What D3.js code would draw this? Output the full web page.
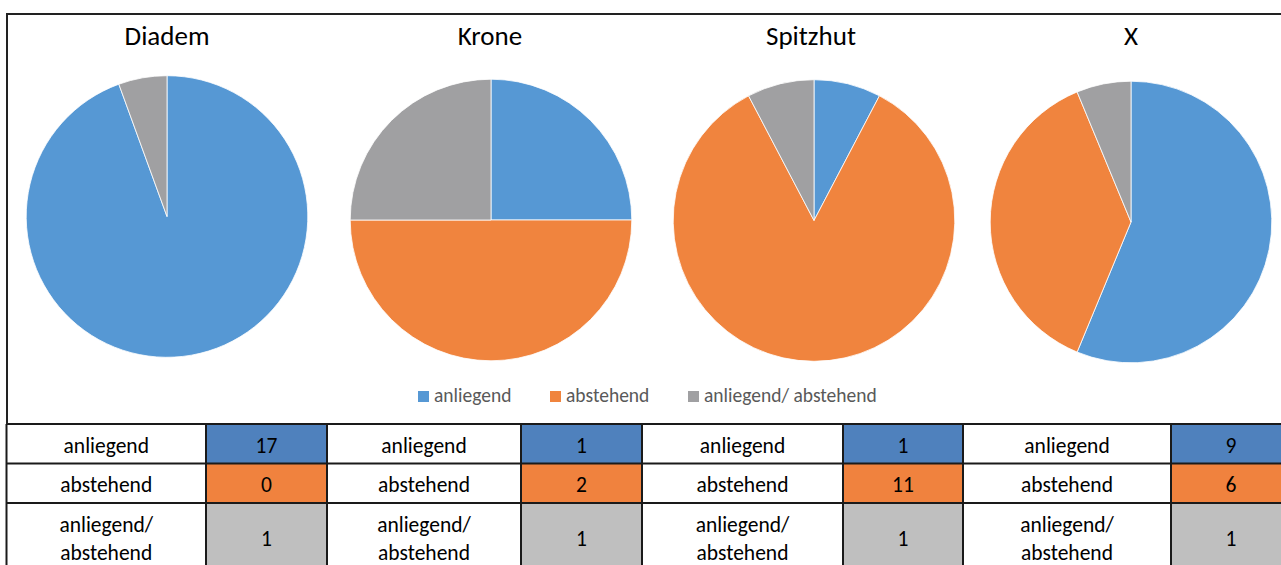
<!DOCTYPE html>
<html>
<head>
<meta charset="utf-8">
<script src="https://cdn.jsdelivr.net/npm/d3@7"></script>
<style>
  html, body { margin: 0; padding: 0; background: #fff; }
  svg { display: block; font-family: Carlito, Lato, "Open Sans", sans-serif; }
</style>
</head>
<body>
<svg id="chart" width="1281" height="565"></svg>
<script>
// Helm shapes and the counts of each ear position
const shapes = ["Diadem", "Krone", "Spitzhut", "X"];
const categories = ["anliegend", "abstehend", "anliegend/ abstehend"];
const rowLabels = [["anliegend"], ["abstehend"], ["anliegend/", "abstehend"]];
const anliegend = [17, 1, 1, 9];
const abstehend = [0, 2, 11, 6];
const beides = [1, 1, 1, 1];

const pieColors = ["#5698D4", "#F0843E", "#A0A0A2"];
const cellColors = ["#4F81BD", "#F0823E", "#BFBFBF"];

const svg = d3.select("#chart");
const W = 1281;

// Frame of the chart area
const frame = { left: 7, top: 14, bottom: 424 };

// Placement of the four pies
const centerX = [167, 491, 814, 1131];
const centerY = [216.5, 220, 220.5, 222];
const titleX = [167, 490, 811, 1131];
const radius = 140.8;

const pie = d3.pie().sort(null).value(d => d.value);
const arc = d3.arc().innerRadius(0).outerRadius(radius);
const color = d3.scaleOrdinal().domain(categories).range(pieColors);

shapes.forEach((s, i) => {
  const data = categories.map((c, k) => ({
    cat: c,
    value: [anliegend, abstehend, beides][k][i]
  }));
  const g = svg.append("g").attr("transform", `translate(${centerX[i]},${centerY[i]})`);
  g.selectAll("path")
    .data(pie(data).filter(d => d.data.value > 0))
    .join("path")
    .attr("d", arc)
    .attr("fill", d => color(d.data.cat))
    .attr("stroke", "#fff")
    .attr("stroke-width", 0.8);
  svg.append("text")
    .attr("x", titleX[i])
    .attr("y", 45)
    .attr("text-anchor", "middle")
    .attr("font-size", 27)
    .attr("fill", "#000")
    .text(s);
});

// Legend
const legendX = [418, 550, 688];
const legend = svg.append("g");
categories.forEach((c, k) => {
  legend.append("rect")
    .attr("x", legendX[k]).attr("y", 391)
    .attr("width", 11).attr("height", 11)
    .attr("fill", color(c));
  legend.append("text")
    .attr("x", legendX[k] + 16).attr("y", 402)
    .attr("font-size", 19.5)
    .attr("fill", "#595959")
    .text(c);
});

// Table under the chart
const colEdges = [6.5, 206, 327, 521, 642, 843, 963, 1171, 1291];
const rowEdges = [424, 463.5, 503, 600];
const values = [anliegend, abstehend, beides];
const table = svg.append("g");

shapes.forEach((s, i) => {
  const xl = colEdges[2 * i], xm = colEdges[2 * i + 1], xr = colEdges[2 * i + 2];
  values.forEach((vals, r) => {
    const y0 = rowEdges[r], y1 = rowEdges[r + 1];
    table.append("rect")
      .attr("x", xl).attr("y", y0).attr("width", xm - xl).attr("height", y1 - y0)
      .attr("fill", "#fff");
    table.append("rect")
      .attr("x", xm).attr("y", y0).attr("width", xr - xm).attr("height", y1 - y0)
      .attr("fill", cellColors[r]);
    const cy = r < 2 ? (y0 + y1) / 2 + 1.5 : 538.5;
    const lines = rowLabels[r];
    lines.forEach((t, li) => {
      table.append("text")
        .attr("x", (xl + xm) / 2)
        .attr("y", (lines.length === 1 ? cy : cy + (li - 0.5) * 28) + 7.5)
        .attr("text-anchor", "middle")
        .attr("font-size", 21.5)
        .attr("fill", "#000")
        .text(t);
    });
    table.append("text")
      .attr("x", (xm + xr) / 2)
      .attr("y", cy + 7.5)
      .attr("text-anchor", "middle")
      .attr("font-size", 21.5)
      .attr("fill", "#000")
      .text(vals[i]);
  });
});

// Grid lines of the table
const gridColor = "#1a1a1a";
rowEdges.slice(0, 3).forEach(y => {
  table.append("line").attr("x1", frame.left).attr("x2", W + 5)
    .attr("y1", y).attr("y2", y)
    .attr("stroke", gridColor).attr("stroke-width", 2);
});
colEdges.forEach(xx => {
  table.append("line").attr("x1", xx).attr("x2", xx)
    .attr("y1", rowEdges[0]).attr("y2", 600)
    .attr("stroke", gridColor).attr("stroke-width", 2);
});

// Outer frame of the chart area
svg.append("path")
  .attr("d", `M${frame.left},${frame.bottom}V${frame.top}H${W + 5}`)
  .attr("fill", "none")
  .attr("stroke", "#222")
  .attr("stroke-width", 2);
</script>
</body>
</html>
